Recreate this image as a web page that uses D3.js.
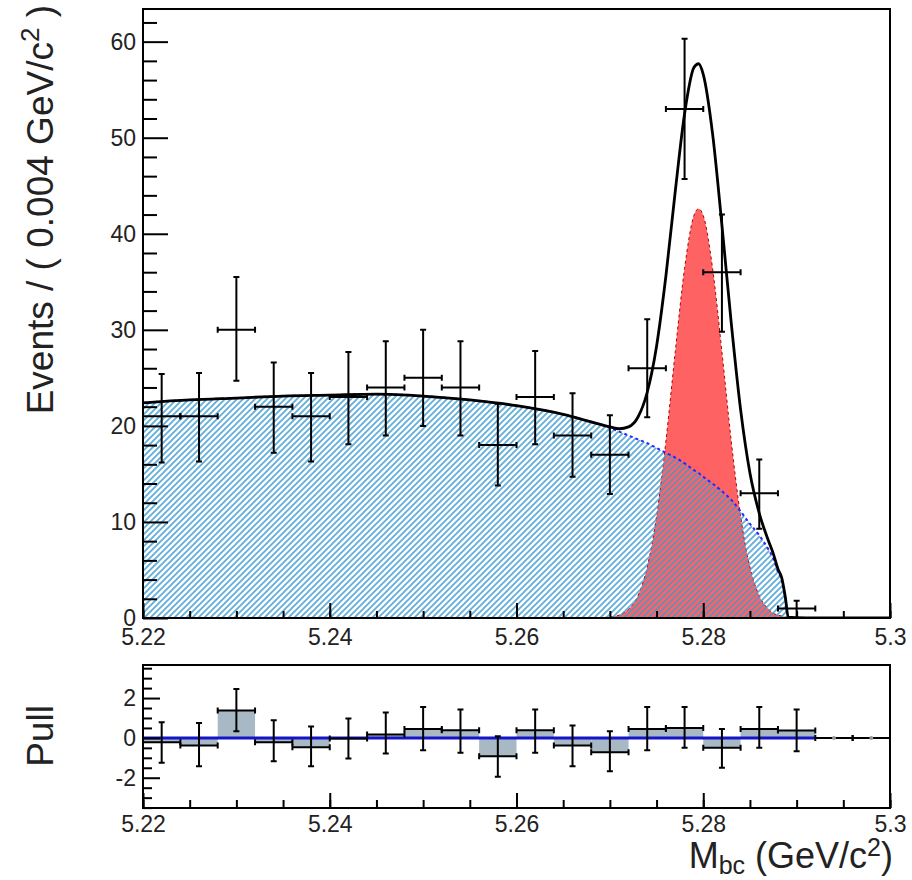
<!DOCTYPE html>
<html>
<head>
<meta charset="utf-8">
<script src="https://cdn.jsdelivr.net/npm/d3@7"></script>
<style>
body { margin: 0; background: #fff; }
svg { display: block; font-family: "Liberation Sans", Arial, sans-serif; }
</style>
</head>
<body>
<svg width="912" height="880"></svg>
<script>
// data histogram, bin width 0.004
var binCenters = [5.222, 5.226, 5.230, 5.234, 5.238, 5.242, 5.246, 5.250, 5.254, 5.258,
                  5.262, 5.266, 5.270, 5.274, 5.278, 5.282, 5.286, 5.290, 5.294, 5.298];
var counts = [21, 21, 30, 22, 21, 23, 24, 25, 24, 18, 23, 19, 17, 26, 53, 36, 13, 1, 0, 0];
var errLo  = [4.8, 4.7, 5.3, 4.8, 4.7, 4.9, 5.0, 5.0, 5.0, 4.2, 4.9, 4.3, 4.1, 5.1, 7.3, 6.2, 3.7, 1.0, 0, 0];
var errHi  = [4.4, 4.5, 5.5, 4.6, 4.5, 4.7, 4.8, 5.0, 4.8, 4.3, 4.8, 4.4, 4.1, 5.1, 7.3, 6.0, 3.5, 0.8, 0, 0];

// fit curves
var fitX = [5.220, 5.225, 5.230, 5.235, 5.240, 5.245, 5.250, 5.255, 5.260, 5.265,
            5.268, 5.270, 5.271, 5.272, 5.273, 5.274, 5.275, 5.276, 5.277, 5.278,
            5.279, 5.2795, 5.280, 5.281, 5.282, 5.283, 5.284, 5.285, 5.286, 5.287,
            5.2875, 5.288, 5.2884, 5.2888, 5.2891, 5.290, 5.292, 5.300];
var bkgY = [22.4, 22.7, 22.9, 23.1, 23.2, 23.3, 23.1, 22.7, 22.1, 21.2,
            20.4, 19.8, 19.4, 19.0, 18.6, 18.2, 17.7, 17.2, 16.7, 16.1,
            15.4, 15.1, 14.7, 14.0, 13.2, 12.3, 11.1, 9.8, 8.6, 7.1,
            6.2, 4.8, 4.0, 2.0, 0, 0, 0, 0];
var sigY = [0, 0, 0, 0, 0, 0, 0, 0, 0, 0,
            0.02, 0.1, 0.3, 0.9, 2.3, 5.3, 10.6, 18.4, 27.7, 36.4,
            41.9, 42.6, 41.9, 36.4, 27.7, 18.4, 10.6, 5.3, 2.3, 0.9,
            0.5, 0.3, 0.2, 0.1, 0.08, 0.03, 0, 0];

// pull histogram
var pulls     = [-0.22, -0.38, 1.37, -0.22, -0.47, -0.03, 0.17, 0.45, 0.38, -0.92,
                 0.38, -0.38, -0.72, 0.45, 0.5, -0.5, 0.45, 0.37, 0, 0];
var pullErrLo = [1.03, 1.04, 1.04, 0.95, 0.95, 1.0, 0.95, 1.07, 1.13, 1.03,
                 1.13, 1.04, 0.95, 1.07, 1.0, 1.0, 0.95, 1.04, 0, 0];
var pullErrHi = [1.0, 1.13, 1.08, 1.1, 1.04, 1.0, 1.1, 1.1, 1.04, 1.0,
                 1.04, 1.0, 1.05, 1.1, 1.05, 0.95, 1.1, 1.05, 0, 0];

var xMajor = [5.22, 5.24, 5.26, 5.28, 5.30];
var xMajorLabels = ["5.22", "5.24", "5.26", "5.28", "5.3"];
var yMajor = [0, 10, 20, 30, 40, 50, 60];
var pullMajor = [-2, 0, 2];

var svg = d3.select("svg"),
    left = 143, right = 890,
    main = {top: 9, bottom: 618},
    pull = {top: 665, bottom: 808},
    halfBin = 0.002;

var x = d3.scaleLinear().domain([5.22, 5.30]).range([left, right]);
var y = d3.scaleLinear().domain([0, 63.4]).range([main.bottom, main.top]);
var yp = d3.scaleLinear().domain([-3.52, 3.66]).range([pull.bottom, pull.top]);

var defs = svg.append("defs");
defs.append("pattern")
    .attr("id", "hatch")
    .attr("patternUnits", "userSpaceOnUse")
    .attr("width", 6)
    .attr("height", 6)
    .append("path")
    .attr("d", "M-1,1 L1,-1 M0,6 L6,0 M5,7 L7,5")
    .attr("stroke", "#3d9ad1")
    .attr("stroke-opacity", 0.8)
    .attr("stroke-width", 1.9);
defs.append("clipPath").attr("id", "clipMain")
    .append("rect").attr("x", left).attr("y", main.top)
    .attr("width", right - left).attr("height", main.bottom - main.top);

var fit = fitX.map(function(d, i) { return {x: d, bkg: bkgY[i], sig: sigY[i]}; });

var plot = svg.append("g").attr("clip-path", "url(#clipMain)");

// signal (red)
var sigArea = d3.area().curve(d3.curveMonotoneX)
    .x(function(d) { return x(d.x); })
    .y0(y(0))
    .y1(function(d) { return y(d.sig); });
plot.append("path").datum(fit)
    .attr("d", sigArea)
    .attr("fill", "#ff6262");
plot.append("path").datum(fit)
    .attr("d", d3.line().curve(d3.curveMonotoneX)
        .x(function(d) { return x(d.x); })
        .y(function(d) { return y(d.sig); }))
    .attr("fill", "none")
    .attr("stroke", "#b00000")
    .attr("stroke-width", 1)
    .attr("stroke-dasharray", "3,3");

// background (hatched)
var bkgArea = d3.area().curve(d3.curveMonotoneX)
    .x(function(d) { return x(d.x); })
    .y0(y(0))
    .y1(function(d) { return y(d.bkg); });
plot.append("path").datum(fit)
    .attr("d", bkgArea)
    .attr("fill", "url(#hatch)");
plot.append("path").datum(fit)
    .attr("d", d3.line().curve(d3.curveMonotoneX)
        .x(function(d) { return x(d.x); })
        .y(function(d) { return y(d.bkg); }))
    .attr("fill", "none")
    .attr("stroke", "#2626ff")
    .attr("stroke-width", 2)
    .attr("stroke-dasharray", "3,3");

// total fit
plot.append("path").datum(fit)
    .attr("d", d3.line().curve(d3.curveMonotoneX)
        .x(function(d) { return x(d.x); })
        .y(function(d) { return y(d.bkg + d.sig); }))
    .attr("fill", "none")
    .attr("stroke", "#000")
    .attr("stroke-width", 2.8);

// error-bar crosses
function drawCross(g, cx, cy, yLo, yHi, showV) {
    var x0 = x(cx - halfBin), x1 = x(cx + halfBin), px = x(cx);
    var p = "M" + x0 + "," + cy + "H" + x1 +
            "M" + x0 + "," + (cy - 3) + "v6" +
            "M" + x1 + "," + (cy - 3) + "v6";
    if (showV) {
        p += "M" + px + "," + yHi + "V" + yLo +
             "M" + (px - 3) + "," + yHi + "h6" +
             "M" + (px - 3) + "," + yLo + "h6";
    }
    g.append("path").attr("d", p)
        .attr("fill", "none").attr("stroke", "#000").attr("stroke-width", 2);
}

var dataG = svg.append("g");
binCenters.forEach(function(c, i) {
    if (counts[i] <= 0) return;
    drawCross(dataG, c, y(counts[i]), y(counts[i] - errLo[i]), y(counts[i] + errHi[i]), true);
});

// main frame + axes
svg.append("rect")
    .attr("x", left).attr("y", main.top)
    .attr("width", right - left).attr("height", main.bottom - main.top)
    .attr("fill", "none").attr("stroke", "#000").attr("stroke-width", 2);

var yMinor = d3.range(0, 64, 2).filter(function(v) { return v % 10 !== 0; });
var xMinor = d3.range(0, 17).map(function(i) { return 5.22 + i * 0.005; });

svg.append("g").attr("transform", "translate(" + left + ",0)")
    .call(d3.axisLeft(y).tickValues(yMinor).tickSize(-14).tickSizeOuter(0).tickFormat(""))
    .call(function(g) { g.select(".domain").remove(); });
svg.append("g").attr("class", "ymain").attr("transform", "translate(" + left + ",0)")
    .call(d3.axisLeft(y).tickValues(yMajor).tickSize(-25).tickSizeOuter(0).tickPadding(7))
    .call(function(g) { g.select(".domain").remove(); });

svg.append("g").attr("transform", "translate(0," + main.bottom + ")")
    .call(d3.axisBottom(x).tickValues(xMinor).tickSize(-7).tickSizeOuter(0).tickFormat(""))
    .call(function(g) { g.select(".domain").remove(); });
svg.append("g").attr("class", "xmain").attr("transform", "translate(0," + main.bottom + ")")
    .call(d3.axisBottom(x).tickValues(xMajor).tickSize(-15).tickSizeOuter(0).tickPadding(11)
        .tickFormat(function(d, i) { return xMajorLabels[i]; }))
    .call(function(g) { g.select(".domain").remove(); });

svg.append("text")
    .attr("transform", "translate(53,5) rotate(-90)")
    .attr("text-anchor", "end")
    .attr("font-size", 37)
    .attr("fill", "#222")
    .text("Events / ( 0.004 GeV/c")
    .append("tspan").attr("font-size", 26).attr("dy", -14).text("2")
    .select(function() { return this.parentNode; })
    .append("tspan").attr("dy", 14).text(" )");

// pull panel
var pullG = svg.append("g");
binCenters.forEach(function(c, i) {
    if (pulls[i] === 0) return;
    pullG.append("rect")
        .attr("x", x(c - halfBin))
        .attr("width", x(c + halfBin) - x(c - halfBin))
        .attr("y", yp(Math.max(0, pulls[i])))
        .attr("height", Math.abs(yp(pulls[i]) - yp(0)))
        .attr("fill", "#a8b8c4");
});
pullG.append("line")
    .attr("x1", x(5.22)).attr("x2", x(5.292))
    .attr("y1", yp(0)).attr("y2", yp(0))
    .attr("stroke", "#1414c8").attr("stroke-width", 3);
binCenters.forEach(function(c, i) {
    drawCross(pullG, c, yp(pulls[i]), yp(pulls[i] - pullErrLo[i]), yp(pulls[i] + pullErrHi[i]), pullErrHi[i] > 0);
    if (pullErrHi[i] === 0) {
        pullG.append("circle").attr("cx", x(c)).attr("cy", yp(0)).attr("r", 2).attr("fill", "#999");
    }
});

svg.append("rect")
    .attr("x", left).attr("y", pull.top)
    .attr("width", right - left).attr("height", pull.bottom - pull.top)
    .attr("fill", "none").attr("stroke", "#000").attr("stroke-width", 2);

var pMinor = d3.range(-7, 8).map(function(i) { return i * 0.5; })
    .filter(function(v) { return pullMajor.indexOf(v) < 0; });
svg.append("g").attr("transform", "translate(" + left + ",0)")
    .call(d3.axisLeft(yp).tickValues(pMinor).tickSize(-9).tickSizeOuter(0).tickFormat(""))
    .call(function(g) { g.select(".domain").remove(); });
svg.append("g").attr("class", "ymain").attr("transform", "translate(" + left + ",0)")
    .call(d3.axisLeft(yp).tickValues(pullMajor).tickSize(-17).tickSizeOuter(0).tickPadding(7)
        .tickFormat(function(d) { return d; }))
    .call(function(g) { g.select(".domain").remove(); });
svg.append("g").attr("transform", "translate(0," + pull.bottom + ")")
    .call(d3.axisBottom(x).tickValues(xMinor).tickSize(-8).tickSizeOuter(0).tickFormat(""))
    .call(function(g) { g.select(".domain").remove(); });
svg.append("g").attr("class", "xmain").attr("transform", "translate(0," + pull.bottom + ")")
    .call(d3.axisBottom(x).tickValues(xMajor).tickSize(-15).tickSizeOuter(0).tickPadding(8)
        .tickFormat(function(d, i) { return xMajorLabels[i]; }))
    .call(function(g) { g.select(".domain").remove(); });

svg.append("text")
    .attr("transform", "translate(53,736) rotate(-90)")
    .attr("text-anchor", "middle")
    .attr("font-size", 37)
    .attr("fill", "#222")
    .text("Pull");

var xt = svg.append("text")
    .attr("x", 893).attr("y", 868)
    .attr("text-anchor", "end")
    .attr("font-size", 36)
    .attr("fill", "#222");
xt.append("tspan").text("M");
xt.append("tspan").attr("font-size", 25).attr("dy", 6).text("bc");
xt.append("tspan").attr("dy", -6).text(" (GeV/c");
xt.append("tspan").attr("font-size", 25).attr("dy", -12).text("2");
xt.append("tspan").attr("dy", 12).text(")");

svg.selectAll(".tick line").attr("stroke", "#000").attr("stroke-width", 2);
svg.selectAll(".ymain text, .xmain text")
    .attr("font-size", 23)
    .attr("font-family", "Liberation Sans, Arial, sans-serif")
    .attr("fill", "#222");
</script>
</body>
</html>
